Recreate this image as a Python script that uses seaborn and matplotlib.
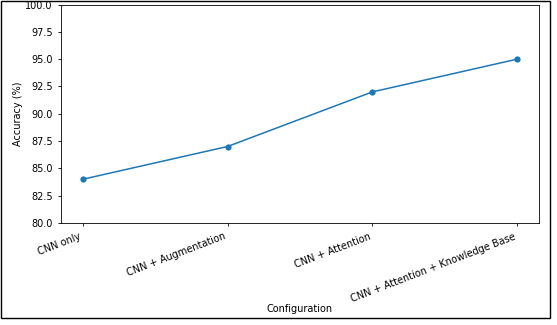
import matplotlib
matplotlib.use("Agg")
import matplotlib.pyplot as plt
import seaborn as sns
import pandas as pd
from matplotlib.patches import Rectangle

configurations = ["CNN only", "CNN + Augmentation", "CNN + Attention",
                  "CNN + Attention + Knowledge Base"]
accuracy = [84.0, 87.0, 92.0, 95.0]
y_ticks = [80.0, 82.5, 85.0, 87.5, 90.0, 92.5, 95.0, 97.5, 100.0]

df = pd.DataFrame({"Configuration": configurations, "Accuracy (%)": accuracy})

fs = 7.0
fig = plt.figure(figsize=(5.57, 3.25), dpi=100)
ax = fig.add_axes([0.1095, 0.314, 0.858, 0.672])

sns.lineplot(data=df, x="Configuration", y="Accuracy (%)", marker="o",
             color="#1f77b4", linewidth=1.1, markersize=4.5,
             markeredgewidth=0, sort=False, ax=ax)

ax.set_ylim(80, 100)
ax.set_yticks(y_ticks)
ax.set_yticklabels([f"{t:.1f}" for t in y_ticks], fontsize=fs)
ax.set_xticks(range(len(configurations)))
ax.set_xticklabels(configurations, rotation=21, ha="right", fontsize=fs)
ax.set_xlabel("Configuration", fontsize=fs, labelpad=0.5)
ax.set_ylabel("Accuracy (%)", fontsize=fs, labelpad=1.5)
ax.tick_params(length=2.5, width=0.6)
for s in ax.spines.values():
    s.set_linewidth(0.6)

# outer frame around the whole figure
fig.patches.append(Rectangle((0.002, 0.022), 0.985, 0.975, transform=fig.transFigure,
                             fill=False, edgecolor="black", linewidth=1.0))

fig.savefig("out.png", dpi=100)
